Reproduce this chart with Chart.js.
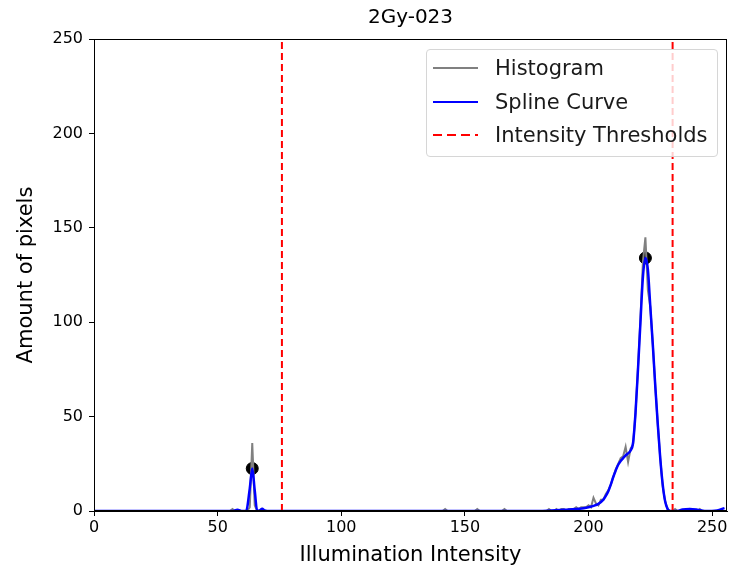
<!DOCTYPE html>
<html>
<head>
<meta charset="utf-8">
<script src="https://cdn.jsdelivr.net/npm/chart.js@4.4.1/dist/chart.umd.min.js"></script>
<style>
  body { margin: 0; background: #fff; }
  #wrap { position: relative; width: 729px; height: 571px; }
  #wrap canvas { display: block; }
  #legend {
    position: absolute; left: 426px; top: 49px; width: 292px; height: 108px;
    box-sizing: border-box; border: 1px solid #d6d6d6; border-radius: 4px;
    background: rgba(255,255,255,0.8);
    font-family: "DejaVu Sans", sans-serif; font-size: 21px; color: #1a1a1a;
  }
  .row { position: absolute; left: 0; height: 26px; display: flex; align-items: center; }
  .row svg { margin-left: 6px; margin-right: 17px; }
</style>
</head>
<body>
<div id="wrap">
  <canvas id="myChart" width="729" height="571"></canvas>
  <div id="legend">
    <div class="row" style="top:5px"><svg width="45" height="4"><line x1="0" y1="2" x2="45" y2="2" stroke="#808080" stroke-width="2"/></svg><span>Histogram</span></div>
    <div class="row" style="top:39px"><svg width="45" height="4"><line x1="0" y1="2" x2="45" y2="2" stroke="#0000ff" stroke-width="2"/></svg><span>Spline Curve</span></div>
    <div class="row" style="top:72px"><svg width="45" height="4"><line x1="0" y1="2" x2="45" y2="2" stroke="#ff0000" stroke-width="2" stroke-dasharray="9,5"/></svg><span>Intensity Thresholds</span></div>
  </div>
</div>
<script>
// histogram (sparse: only bins around the non-zero parts)
const histX = [0, 55, 56, 57, 62, 63, 64, 65, 66, 67, 68, 69,
  141, 142, 143, 154, 155, 156, 165, 166, 167,
  183, 184, 185, 186, 187, 188, 189, 190, 191, 192, 193, 194, 195, 196, 197, 198, 199,
  200, 201, 202, 203, 204, 205, 206, 207, 208, 209, 210, 211, 212, 213, 214, 215, 216, 217, 218, 219,
  220, 221, 222, 223, 224, 225, 226, 227, 228, 229, 230, 231, 232, 233,
  234, 235, 236, 240, 241, 242, 244, 245, 246, 255];
const histY = [0, 0, 1, 0, 0, 2, 36, 3, 0, 0, 1, 0,
  0, 1, 0, 0, 1, 0, 0, 1, 0,
  0, 1, 0, 0, 1, 0, 1, 1, 0, 1, 1, 1, 2, 1, 2, 2, 2,
  3, 2, 7, 4, 3, 6, 6, 9, 11, 14, 18, 22, 25, 28, 29, 34, 26, 33, 35, 52,
  76, 102, 132, 145, 117, 108, 88, 66, 46, 28, 13, 5, 1, 0,
  0, 1, 0, 0, 1, 0, 0, 1, 0, 0];

// spline fit
const splineX = [0, 56, 58, 60, 61.5, 63, 64, 65, 66, 67, 68, 69, 70,
  180, 185, 190, 195, 198, 200, 202, 204, 206, 207, 208, 209, 210, 211, 212, 213, 214, 215, 216, 217, 218, 219,
  220, 221, 222, 223, 224, 225, 226, 227, 228, 229, 230, 231, 232, 233, 236, 238, 241, 244, 247, 252, 255];
const splineY = [0, 0, 0.6, 0, 0, 12, 22.5, 11, 0, 0.3, 1.2, 0.3, 0,
  0, 0.3, 0.6, 1.0, 1.5, 2, 2.7, 3.8, 6, 8, 10.5, 14, 18, 21.5, 24.5, 26.5, 28, 29.5, 30.5, 32, 36, 52,
  75, 100, 124, 134, 128, 108, 88, 66, 46, 28, 14, 5, 1, 0, 0, 0.8, 1.1, 0.7, 0, 0.3, 1.5];

const peakX = [64, 223];
const peakY = [22.5, 134];
const thresholds = [76, 234];

const X_MAX = 256;
const xTicks = [0, 50, 100, 150, 200, 250];
const yTicks = [0, 50, 100, 150, 200, 250];

const FONT = '"DejaVu Sans", sans-serif';
const pts = (xs, ys) => xs.map((x, i) => ({x: x, y: ys[i]}));

const frame = {
  id: 'frame',
  afterDraw(chart) {
    const {ctx, chartArea: a} = chart;
    ctx.save();
    ctx.strokeStyle = '#000';
    ctx.lineWidth = 1;
    ctx.strokeRect(a.left + 0.5, a.top + 0.5, a.right - a.left - 1, a.bottom - a.top - 1);
    ctx.restore();
  }
};

const datasets = [
  {
    label: 'Histogram', data: pts(histX, histY), showLine: true,
    borderColor: '#808080', borderWidth: 2, pointRadius: 0, tension: 0, order: 2
  },
  {
    label: 'Spline Curve', data: pts(splineX, splineY), showLine: true,
    borderColor: '#0000ff', borderWidth: 2.5, pointRadius: 0,
    cubicInterpolationMode: 'monotone', order: 1
  },
  {
    label: 'Peaks', data: pts(peakX, peakY), showLine: false,
    backgroundColor: '#000', borderColor: '#000', pointRadius: 6, order: 3
  }
];
thresholds.forEach(t => datasets.push({
  label: 'Intensity Thresholds', data: [{x: t, y: 0}, {x: t, y: 250}], showLine: true,
  borderColor: '#ff0000', borderWidth: 2, borderDash: [7, 4], pointRadius: 0, order: 0
}));

const ctx = document.getElementById('myChart');
new Chart(ctx, {
  type: 'scatter',
  data: { datasets: datasets },
  plugins: [frame],
  options: {
    responsive: false,
    animation: false,
    layout: { autoPadding: false, padding: { top: 0, right: 0, left: 0, bottom: 0 } },
    plugins: {
      legend: { display: false },
      tooltip: { enabled: false },
      title: {
        display: true, text: '2Gy-023', fullSize: false, color: '#000',
        font: { family: FONT, size: 20, weight: 'normal' },
        padding: { top: 6, bottom: 9 }
      }
    },
    scales: {
      x: {
        type: 'linear', min: 0, max: X_MAX,
        // the axis end gets an empty tick so the "250" label does not push the plot in
        afterBuildTicks: s => { s.ticks = xTicks.concat([X_MAX]).map(v => ({value: v})); },
        afterFit: s => { s.height = 60; },
        grid: {
          drawOnChartArea: false, tickLength: 5,
          tickColor: c => (c.tick && c.tick.value === X_MAX ? 'rgba(0,0,0,0)' : '#000')
        },
        border: { color: '#000', width: 1 },
        ticks: {
          color: '#000', padding: 2, maxRotation: 0, autoSkip: false,
          font: { family: FONT, size: 16 },
          callback: v => (v === X_MAX ? '' : v)
        },
        title: {
          display: true, text: 'Illumination Intensity', color: '#000',
          font: { family: FONT, size: 21 }, padding: { top: 0, bottom: 3 }
        }
      },
      y: {
        type: 'linear', min: 0, max: 250,
        afterBuildTicks: s => { s.ticks = yTicks.map(v => ({value: v})); },
        afterFit: s => { s.width = 94; },
        grid: { drawOnChartArea: false, tickLength: 5, tickColor: '#000' },
        border: { color: '#000', width: 1 },
        ticks: { color: '#000', padding: 6, font: { family: FONT, size: 16 } },
        title: {
          display: true, text: 'Amount of pixels', color: '#000',
          font: { family: FONT, size: 21 }, padding: { top: 14, bottom: 0 }
        }
      }
    }
  }
});
</script>
</body>
</html>
